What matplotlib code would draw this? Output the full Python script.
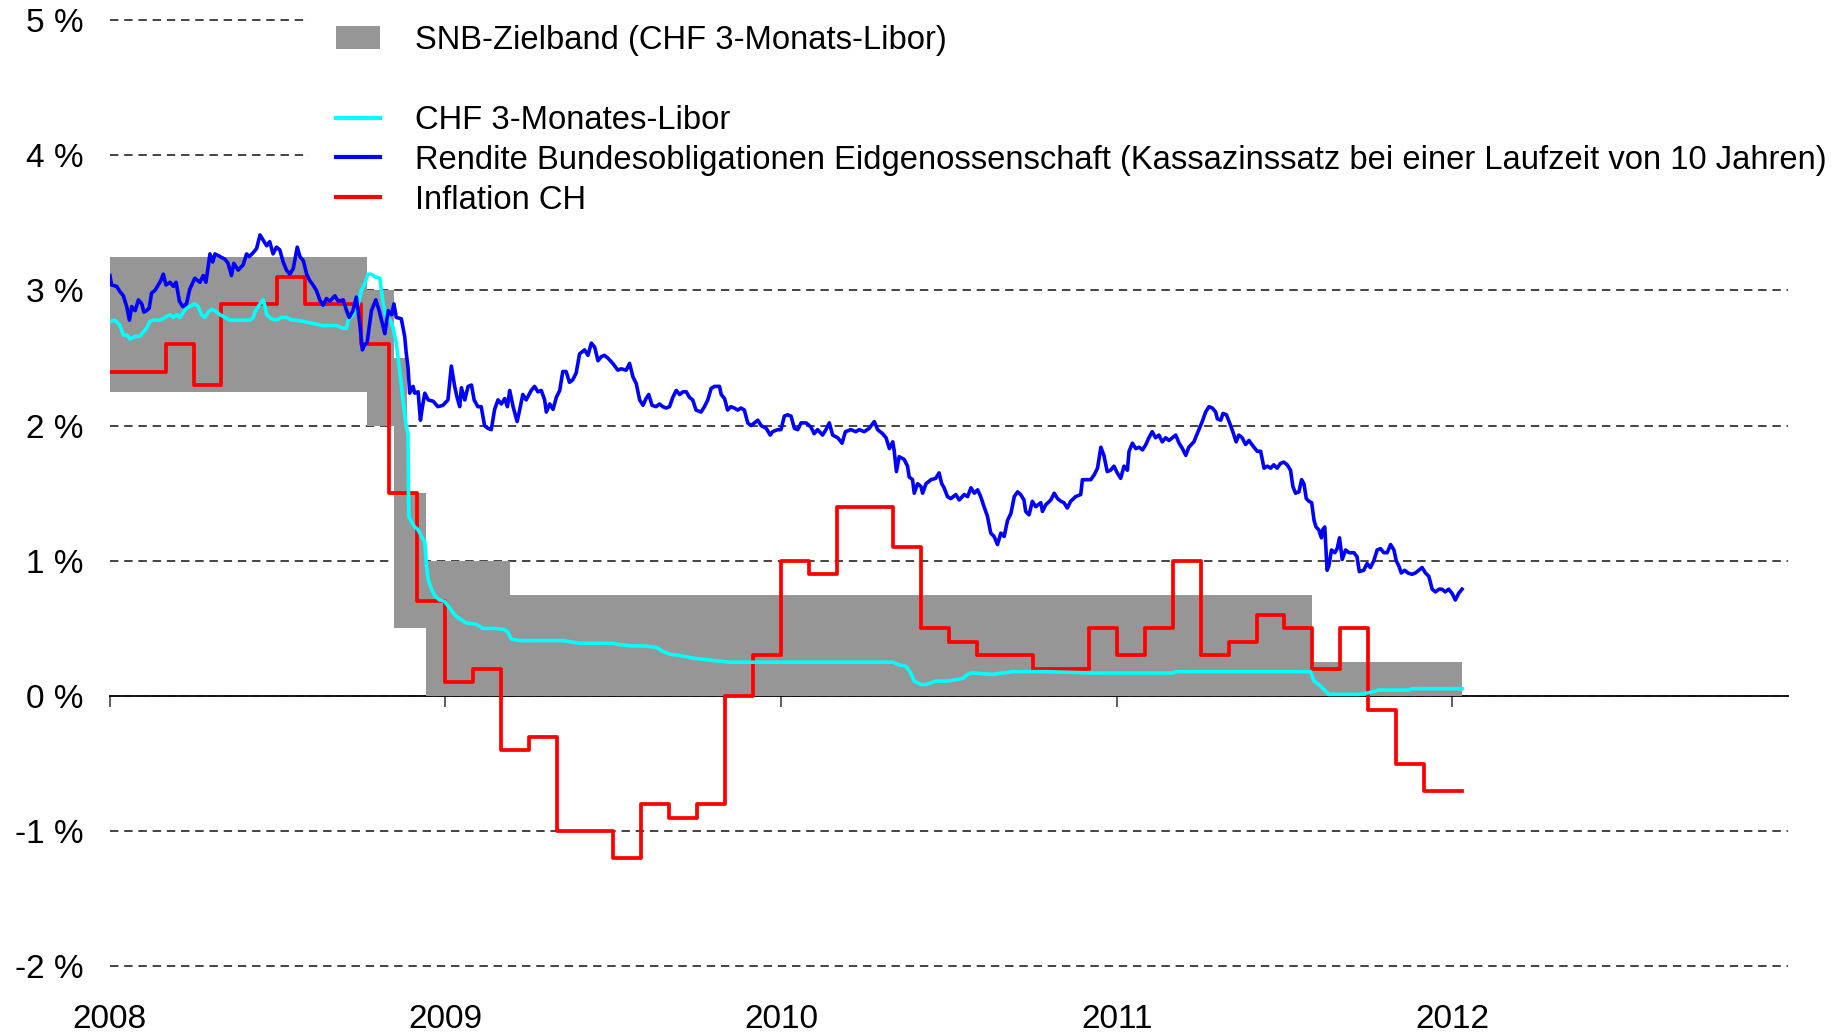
import matplotlib
matplotlib.use('Agg')
import matplotlib.pyplot as plt
from matplotlib.patches import Patch
from matplotlib.lines import Line2D
import numpy as np

plt.rcParams['font.family'] = ['Liberation Sans', 'DejaVu Sans']
plt.rcParams['font.size'] = 24

# ---------------- data ----------------
year_ticks = [2008, 2009, 2010, 2011, 2012]
year_labels = ['2008', '2009', '2010', '2011', '2012']
y_ticks = [-2, -1, 0, 1, 2, 3, 4, 5]
y_tick_labels = ['-2 %', '-1 %', '0 %', '1 %', '2 %', '3 %', '4 %', '5 %']

labels = ['SNB-Zielband (CHF 3-Monats-Libor)', ' ', 'CHF 3-Monates-Libor',
          'Rendite Bundesobligationen Eidgenossenschaft (Kassazinssatz bei einer Laufzeit von 10 Jahren)',
          'Inflation CH']

# SNB target band (fractional years)
band_start = [2008.000, 2008.768, 2008.847, 2008.887, 2008.942, 2009.192, 2009.910, 2011.582, 2011.830]
band_end_last = 2012.029
band_low = [2.25, 2.00, 0.50, 0.50, 0.00, 0.00, 0.00, 0.00, 0.00]
band_high = [3.25, 3.00, 2.50, 1.50, 1.00, 0.75, 0.75, 0.25, 0.25]

# Inflation CH, monthly from Jan 2008 to Dec 2011
infl_values = [2.4, 2.4, 2.6, 2.3, 2.9, 2.9, 3.1, 2.9, 2.9, 2.6, 1.5, 0.7,
               0.1, 0.2, -0.4, -0.3, -1.0, -1.0, -1.2, -0.8, -0.9, -0.8, 0.0, 0.3,
               1.0, 0.9, 1.4, 1.4, 1.1, 0.5, 0.4, 0.3, 0.3, 0.2, 0.2, 0.5,
               0.3, 0.5, 1.0, 0.3, 0.4, 0.6, 0.5, 0.2, 0.5, -0.1, -0.5, -0.7]
infl_end = 2012.029

# CHF 3-month Libor (years after 2008.0, percent)
libor_t = [0.001, 0.016, 0.031, 0.041, 0.051, 0.061, 0.076, 0.090, 0.100, 0.110, 0.120, 0.130,
           0.150, 0.165, 0.180, 0.190, 0.200, 0.210, 0.220, 0.229, 0.239, 0.254, 0.264, 0.274,
           0.284, 0.294, 0.304, 0.314, 0.329, 0.344, 0.358, 0.378, 0.398, 0.418, 0.428, 0.433,
           0.443, 0.453, 0.458, 0.463, 0.468, 0.482, 0.497, 0.512, 0.527, 0.542, 0.557, 0.577,
           0.596, 0.616, 0.636, 0.656, 0.676, 0.696, 0.706, 0.711, 0.725, 0.740, 0.750, 0.760,
           0.770, 0.780, 0.790, 0.805, 0.815, 0.825, 0.835, 0.844, 0.854, 0.864, 0.874, 0.884,
           0.889, 0.891, 0.899, 0.909, 0.919, 0.929, 0.939, 0.944, 0.949, 0.959, 0.969, 0.983,
           0.998, 1.013, 1.028, 1.043, 1.063, 1.093, 1.112, 1.152, 1.177, 1.187, 1.197, 1.221,
           1.301, 1.350, 1.400, 1.499, 1.519, 1.559, 1.598, 1.628, 1.648, 1.668, 1.698, 1.737,
           1.777, 1.807, 1.846, 1.896, 1.995, 2.333, 2.352, 2.372, 2.387, 2.397, 2.417, 2.432,
           2.461, 2.491, 2.521, 2.541, 2.556, 2.571, 2.630, 2.690, 2.709, 2.789, 2.928, 3.126,
           3.166, 3.176, 3.578, 3.588, 3.602, 3.617, 3.632, 3.721, 3.751, 3.781, 3.870, 3.880,
           4.029]
libor_v = [2.77, 2.78, 2.74, 2.67, 2.67, 2.64, 2.66, 2.66, 2.69, 2.72, 2.77, 2.78,
           2.78, 2.80, 2.82, 2.80, 2.82, 2.80, 2.84, 2.87, 2.88, 2.90, 2.88, 2.82,
           2.80, 2.84, 2.86, 2.85, 2.82, 2.80, 2.78, 2.78, 2.78, 2.78, 2.80, 2.84,
           2.88, 2.92, 2.93, 2.88, 2.82, 2.79, 2.78, 2.80, 2.80, 2.78, 2.78, 2.77,
           2.76, 2.75, 2.74, 2.74, 2.74, 2.72, 2.72, 2.78, 2.82, 2.89, 3.00, 3.05,
           3.12, 3.12, 3.10, 3.09, 2.90, 2.80, 2.78, 2.73, 2.61, 2.41, 2.19, 1.99,
           1.94, 1.33, 1.29, 1.25, 1.23, 1.18, 1.14, 0.96, 0.86, 0.79, 0.74, 0.71,
           0.70, 0.65, 0.60, 0.57, 0.54, 0.53, 0.50, 0.50, 0.49, 0.47, 0.42, 0.41,
           0.41, 0.41, 0.39, 0.39, 0.38, 0.37, 0.37, 0.36, 0.33, 0.31, 0.30, 0.28,
           0.27, 0.26, 0.25, 0.25, 0.25, 0.25, 0.23, 0.22, 0.17, 0.11, 0.085, 0.085,
           0.11, 0.11, 0.12, 0.13, 0.16, 0.17, 0.16, 0.18, 0.18, 0.18, 0.17, 0.17,
           0.17, 0.18, 0.18, 0.11, 0.085, 0.05, 0.012, 0.012, 0.024, 0.044, 0.044, 0.054,
           0.054]

# 10-year Confederation bond yield (years after 2008.0, percent)
bond_t = [0.001, 0.006, 0.021, 0.031, 0.041, 0.051, 0.059, 0.066, 0.076, 0.086, 0.096, 0.102,
          0.110, 0.118, 0.125, 0.135, 0.145, 0.152, 0.160, 0.168, 0.180, 0.190, 0.198, 0.208,
          0.218, 0.229, 0.239, 0.254, 0.269, 0.279, 0.287, 0.299, 0.307, 0.314, 0.329, 0.344,
          0.353, 0.363, 0.370, 0.383, 0.398, 0.408, 0.416, 0.428, 0.438, 0.448, 0.458, 0.468,
          0.477, 0.487, 0.497, 0.507, 0.517, 0.527, 0.537, 0.547, 0.559, 0.567, 0.577, 0.587,
          0.597, 0.606, 0.616, 0.626, 0.636, 0.646, 0.656, 0.671, 0.681, 0.696, 0.706, 0.714,
          0.725, 0.735, 0.745, 0.753, 0.760, 0.767, 0.780, 0.793, 0.803, 0.810, 0.820, 0.830,
          0.840, 0.847, 0.854, 0.869, 0.879, 0.884, 0.889, 0.894,
          0.904, 0.909, 0.919, 0.926, 0.932, 0.939, 0.949, 0.964, 0.978, 0.993, 1.008, 1.018,
          1.028, 1.035, 1.043, 1.048, 1.058, 1.068, 1.078, 1.086, 1.097, 1.107, 1.117, 1.127,
          1.137, 1.147, 1.157, 1.167, 1.177, 1.185, 1.192, 1.202, 1.214, 1.222, 1.231, 1.241,
          1.256, 1.266, 1.276, 1.286, 1.296, 1.301, 1.311, 1.321, 1.331, 1.341, 1.350, 1.360,
          1.370, 1.380, 1.390, 1.400, 1.415, 1.425, 1.435, 1.445, 1.455, 1.465, 1.474, 1.484,
          1.499, 1.514, 1.524, 1.539, 1.549, 1.559, 1.569, 1.579, 1.589, 1.598, 1.606, 1.616,
          1.628, 1.638, 1.648, 1.658, 1.668, 1.678, 1.688, 1.698, 1.708, 1.718, 1.727, 1.737,
          1.747, 1.762, 1.772, 1.782, 1.792, 1.802, 1.817, 1.822, 1.832, 1.841, 1.851, 1.861,
          1.871, 1.881, 1.891, 1.901, 1.911, 1.921, 1.931, 1.941, 1.956, 1.968, 1.975, 1.990,
          2.000, 2.010, 2.020, 2.030, 2.040, 2.050, 2.060, 2.075, 2.089, 2.099, 2.109, 2.124,
          2.134, 2.144, 2.154, 2.169, 2.182, 2.192, 2.208, 2.223, 2.233, 2.248, 2.263, 2.278,
          2.288, 2.303, 2.313, 2.323, 2.333, 2.337, 2.344, 2.352, 2.367, 2.377, 2.382, 2.392,
          2.397, 2.407, 2.417, 2.422, 2.432, 2.447, 2.461, 2.471, 2.479, 2.486, 2.496, 2.506,
          2.521, 2.531, 2.546, 2.556, 2.566, 2.576, 2.586, 2.595, 2.605, 2.615, 2.625, 2.635,
          2.645, 2.655, 2.665, 2.675, 2.685, 2.695, 2.705, 2.714, 2.724, 2.729, 2.739, 2.749,
          2.759, 2.774, 2.779, 2.789, 2.804, 2.814, 2.824, 2.834, 2.843, 2.853, 2.863, 2.878,
          2.893, 2.898, 2.913, 2.923, 2.933, 2.943, 2.953, 2.962, 2.972, 2.982, 2.992, 3.002,
          3.012, 3.022, 3.032, 3.037, 3.047, 3.057, 3.067, 3.077, 3.087, 3.096, 3.106, 3.116,
          3.126, 3.136, 3.146, 3.156, 3.166, 3.176, 3.186, 3.196, 3.206, 3.215, 3.230, 3.245,
          3.255, 3.265, 3.275, 3.285, 3.295, 3.300, 3.310, 3.317, 3.327, 3.335, 3.344, 3.356,
          3.364, 3.374, 3.384, 3.394, 3.409, 3.419, 3.429, 3.439, 3.449, 3.459, 3.468, 3.478,
          3.488, 3.498, 3.508, 3.518, 3.525, 3.533, 3.543, 3.551, 3.558, 3.565, 3.573, 3.581,
          3.588, 3.594, 3.602, 3.610, 3.614, 3.620, 3.627, 3.632, 3.640, 3.650, 3.657, 3.664,
          3.672, 3.682, 3.692, 3.707, 3.716, 3.723, 3.736, 3.746, 3.756, 3.766, 3.776, 3.786,
          3.796, 3.806, 3.816, 3.826, 3.833, 3.841, 3.848, 3.858, 3.868, 3.880, 3.890, 3.900,
          3.910, 3.920, 3.930, 3.940, 3.950, 3.960, 3.969, 3.979, 3.989, 3.999, 4.009, 4.019,
          4.029]
bond_v = [3.11, 3.04, 3.03, 2.99, 2.96, 2.88, 2.78, 2.88, 2.85, 2.93, 2.90, 2.84,
          2.85, 2.87, 2.98, 3.00, 3.04, 3.07, 3.12, 3.04, 3.06, 3.03, 3.06, 2.92,
          2.88, 2.90, 3.01, 3.09, 3.06, 3.11, 3.06, 3.27, 3.21, 3.27, 3.25, 3.23,
          3.20, 3.11, 3.20, 3.15, 3.19, 3.27, 3.25, 3.28, 3.31, 3.41, 3.37, 3.33,
          3.36, 3.27, 3.32, 3.30, 3.21, 3.15, 3.12, 3.16, 3.32, 3.25, 3.22, 3.12,
          3.07, 3.04, 3.00, 2.93, 2.89, 2.94, 2.92, 2.96, 2.92, 2.93, 2.85, 2.80,
          2.85, 2.95, 2.76, 2.56, 2.60, 2.61, 2.85, 2.93, 2.85, 2.78, 2.68, 2.85,
          2.82, 2.90, 2.80, 2.79, 2.66, 2.53, 2.43, 2.24,
          2.29, 2.24, 2.25, 2.04, 2.14, 2.24, 2.19, 2.18, 2.14, 2.15, 2.19, 2.44,
          2.29, 2.21, 2.14, 2.28, 2.19, 2.29, 2.30, 2.19, 2.14, 2.14, 2.00, 1.98,
          1.97, 2.12, 2.19, 2.16, 2.20, 2.14, 2.26, 2.14, 2.03, 2.12, 2.23, 2.19,
          2.26, 2.29, 2.25, 2.26, 2.19, 2.10, 2.16, 2.12, 2.21, 2.26, 2.40, 2.40,
          2.32, 2.34, 2.39, 2.53, 2.56, 2.52, 2.61, 2.58, 2.48, 2.51, 2.52, 2.50,
          2.46, 2.41, 2.42, 2.41, 2.46, 2.36, 2.31, 2.19, 2.15, 2.20, 2.23, 2.15,
          2.14, 2.16, 2.14, 2.13, 2.14, 2.21, 2.26, 2.23, 2.25, 2.25, 2.21, 2.19,
          2.115, 2.10, 2.14, 2.19, 2.275, 2.29, 2.29, 2.23, 2.20, 2.115, 2.14, 2.13,
          2.115, 2.13, 2.115, 2.02, 2.00, 2.02, 2.04, 2.00, 1.98, 1.93, 1.955, 1.97,
          1.97, 2.07, 2.08, 2.07, 1.98, 1.97, 2.02, 2.02, 1.99, 1.94, 1.97, 1.93,
          1.97, 2.02, 1.93, 1.91, 1.87, 1.955, 1.97, 1.955, 1.97, 1.955, 1.98, 2.03,
          1.97, 1.94, 1.91, 1.83, 1.88, 1.82, 1.66, 1.77, 1.75, 1.70, 1.62, 1.60,
          1.50, 1.57, 1.55, 1.50, 1.57, 1.60, 1.61, 1.65, 1.57, 1.54, 1.475, 1.46,
          1.49, 1.45, 1.49, 1.475, 1.54, 1.50, 1.525, 1.475, 1.40, 1.33, 1.205, 1.18,
          1.12, 1.205, 1.18, 1.30, 1.35, 1.475, 1.51, 1.49, 1.45, 1.365, 1.34, 1.44,
          1.40, 1.43, 1.365, 1.415, 1.45, 1.50, 1.46, 1.44, 1.43, 1.39, 1.44, 1.475,
          1.49, 1.60, 1.60, 1.60, 1.635, 1.685, 1.84, 1.78, 1.66, 1.67, 1.70, 1.65,
          1.61, 1.70, 1.67, 1.81, 1.87, 1.83, 1.84, 1.82, 1.86, 1.91, 1.955, 1.91,
          1.93, 1.88, 1.91, 1.89, 1.91, 1.93, 1.87, 1.83, 1.78, 1.84, 1.88, 1.97,
          2.03, 2.10, 2.14, 2.13, 2.10, 2.05, 2.04, 2.09, 2.08, 2.03, 1.97, 1.88,
          1.93, 1.91, 1.86, 1.89, 1.84, 1.81, 1.81, 1.685, 1.70, 1.685, 1.71, 1.685,
          1.72, 1.73, 1.71, 1.67, 1.55, 1.50, 1.51, 1.60, 1.57, 1.46, 1.44, 1.43,
          1.30, 1.25, 1.23, 1.17, 1.23, 1.25, 0.93, 0.96, 1.08, 1.06, 1.09, 1.17,
          1.01, 1.08, 1.06, 1.06, 1.03, 0.92, 0.93, 0.98, 0.95, 1.00, 1.08, 1.09,
          1.06, 1.06, 1.12, 1.08, 1.00, 0.96, 0.91, 0.93, 0.91, 0.90, 0.91, 0.93,
          0.95, 0.91, 0.885, 0.79, 0.77, 0.79, 0.79, 0.77, 0.79, 0.76, 0.71, 0.76,
          0.79]

# ---------------- style ----------------
BAND = '#969696'
CYAN = '#00FFFF'
BLUE = '#0000FF'
RED = '#FF0000'

W, H = 1848, 1035
fig = plt.figure(figsize=(W / 100, H / 100), dpi=100)
ax = fig.add_axes([109.6 / W, 1 - 966.4 / H, (1788 - 109.6) / W, (966.4 - 20) / H])

ax.set_xlim(2008, 2013)
ax.set_ylim(-2, 5)

# grid
ax.set_axisbelow(True)
ax.set_yticks(y_ticks)
ax.set_yticklabels(y_tick_labels)
ax.yaxis.grid(True, color='#111111', linestyle=(0, (5.5, 3.8)), linewidth=1.1)
ax.tick_params(axis='y', length=0, pad=19, labelsize=24)
for gl in ax.get_ygridlines():
    gl.set_clip_on(False)

# x labels at the bottom, axis line at 0 via secondary axis
ax.set_xticks(year_ticks)
ax.set_xticklabels(year_labels)
ax.tick_params(axis='x', length=0, pad=27, labelsize=24)
for s in ax.spines.values():
    s.set_visible(False)

sec = ax.secondary_xaxis(2 / 7)
sec.set_xticks(year_ticks)
sec.set_xticklabels([])
sec.tick_params(axis='x', length=8, width=1.2, color='#444444', direction='out')
sec.spines['bottom'].set_linewidth(1.3)
sec.spines['bottom'].set_color('black')

# band
for i in range(len(band_start)):
    x0 = band_start[i]
    x1 = band_start[i + 1] if i + 1 < len(band_start) else band_end_last
    ax.fill_between([x0, x1], [band_low[i]] * 2, [band_high[i]] * 2,
                    color=BAND, linewidth=0, zorder=1)

# inflation step
infl_x = [2008 + m / 12 for m in range(len(infl_values))] + [infl_end]
infl_y = infl_values + [infl_values[-1]]
ax.step(infl_x, infl_y, where='post', color=RED, linewidth=2.7, zorder=3)

# libor
ax.plot(2008 + np.array(libor_t), libor_v, color=CYAN, linewidth=2.6, zorder=4)

# bond yield
ax.plot(2008 + np.array(bond_t), bond_v, color=BLUE, linewidth=2.6, zorder=5)

# legend
handles = [Patch(facecolor=BAND, edgecolor='none'),
           Line2D([], [], color='none'),
           Line2D([], [], color=CYAN, linewidth=3),
           Line2D([], [], color=BLUE, linewidth=3),
           Line2D([], [], color=RED, linewidth=3)]
leg = fig.legend(handles, labels, loc='upper left',
                 bbox_to_anchor=(309.4 / W, 1 + 1.0 / H),
                 frameon=True, fancybox=False, framealpha=1,
                 facecolor='white', edgecolor='none',
                 borderpad=0.8, labelspacing=0.27, handlelength=1.34,
                 handleheight=0.68, handletextpad=1.07, fontsize=23.6,
                 borderaxespad=0)

fig.savefig('out.png', dpi=100)
